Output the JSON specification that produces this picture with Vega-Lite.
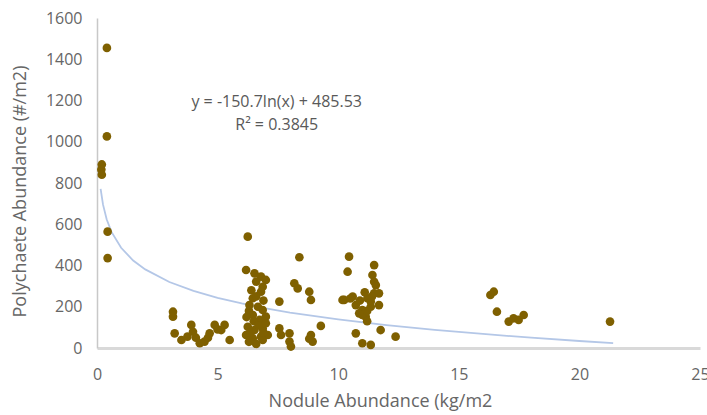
{
  "$schema": "https://vega.github.io/schema/vega-lite/v6.json",
  "width": 603,
  "height": 330,
  "autosize": {"type": "none"},
  "padding": {"left": 97, "top": 18, "right": 7, "bottom": 67},
  "background": "white",
  "config": {"view": {"stroke": null}, "font": "Open Sans"},
  "datasets": {
    "trend": [
      {"x": 0.15, "y": 771}, {"x": 0.25, "y": 695}, {"x": 0.4, "y": 624}, {"x": 0.6, "y": 563},
      {"x": 1, "y": 486}, {"x": 1.5, "y": 424}, {"x": 2, "y": 381}, {"x": 3, "y": 320},
      {"x": 4, "y": 277}, {"x": 5, "y": 243}, {"x": 6, "y": 216}, {"x": 7, "y": 192},
      {"x": 8, "y": 172}, {"x": 10, "y": 139}, {"x": 12, "y": 111}, {"x": 14, "y": 88},
      {"x": 16, "y": 68}, {"x": 18, "y": 50}, {"x": 20, "y": 34}, {"x": 21.4, "y": 24}
    ],
    "points": [
      {"x": 0.41, "y": 1455}, {"x": 0.41, "y": 1026}, {"x": 0.2, "y": 890}, {"x": 0.18, "y": 865}, {"x": 0.2, "y": 840}, {"x": 0.44, "y": 564}, {"x": 0.44, "y": 436},
      {"x": 3.15, "y": 176}, {"x": 3.15, "y": 152}, {"x": 3.22, "y": 71}, {"x": 3.5, "y": 39}, {"x": 3.75, "y": 55}, {"x": 3.91, "y": 112}, {"x": 3.98, "y": 79}, {"x": 4.1, "y": 50}, {"x": 4.26, "y": 23}, {"x": 4.46, "y": 31}, {"x": 4.6, "y": 50}, {"x": 4.67, "y": 71}, {"x": 4.88, "y": 112}, {"x": 5.0, "y": 90}, {"x": 5.15, "y": 87}, {"x": 5.29, "y": 112}, {"x": 5.5, "y": 39},
      {"x": 6.25, "y": 540}, {"x": 6.18, "y": 378}, {"x": 6.53, "y": 362}, {"x": 6.8, "y": 346}, {"x": 6.6, "y": 322}, {"x": 6.87, "y": 297}, {"x": 6.8, "y": 273}, {"x": 6.46, "y": 241}, {"x": 6.32, "y": 208}, {"x": 6.67, "y": 200}, {"x": 6.87, "y": 184}, {"x": 6.46, "y": 160}, {"x": 6.74, "y": 136}, {"x": 6.25, "y": 103}, {"x": 6.53, "y": 87}, {"x": 6.87, "y": 95}, {"x": 6.18, "y": 63}, {"x": 6.46, "y": 47}, {"x": 6.8, "y": 55}, {"x": 7.08, "y": 63}, {"x": 6.87, "y": 39}, {"x": 7.0, "y": 152}, {"x": 6.3, "y": 180}, {"x": 6.5, "y": 130}, {"x": 6.7, "y": 110}, {"x": 6.9, "y": 230}, {"x": 7.0, "y": 120}, {"x": 6.4, "y": 280}, {"x": 6.6, "y": 250}, {"x": 6.2, "y": 150}, {"x": 6.9, "y": 75}, {"x": 6.35, "y": 75}, {"x": 7.0, "y": 330}, {"x": 6.6, "y": 20}, {"x": 6.3, "y": 30},
      {"x": 7.56, "y": 225}, {"x": 7.56, "y": 95}, {"x": 7.63, "y": 63}, {"x": 7.98, "y": 71}, {"x": 7.98, "y": 31}, {"x": 8.04, "y": 7}, {"x": 8.39, "y": 440}, {"x": 8.18, "y": 314}, {"x": 8.32, "y": 289}, {"x": 8.8, "y": 273}, {"x": 8.87, "y": 233}, {"x": 8.87, "y": 63}, {"x": 8.94, "y": 31}, {"x": 9.28, "y": 107}, {"x": 8.8, "y": 45},
      {"x": 10.45, "y": 443}, {"x": 10.39, "y": 370}, {"x": 11.49, "y": 402}, {"x": 11.42, "y": 354}, {"x": 11.49, "y": 321}, {"x": 10.18, "y": 233}, {"x": 10.25, "y": 233}, {"x": 10.6, "y": 249}, {"x": 10.73, "y": 208}, {"x": 11.0, "y": 184}, {"x": 11.21, "y": 241}, {"x": 11.49, "y": 265}, {"x": 11.56, "y": 305}, {"x": 11.14, "y": 152}, {"x": 11.35, "y": 200}, {"x": 10.87, "y": 168}, {"x": 11.69, "y": 208}, {"x": 11.69, "y": 265}, {"x": 11.35, "y": 225}, {"x": 11.0, "y": 160}, {"x": 11.76, "y": 87}, {"x": 10.73, "y": 71}, {"x": 11.0, "y": 23}, {"x": 11.35, "y": 15}, {"x": 12.38, "y": 55}, {"x": 10.9, "y": 230}, {"x": 11.2, "y": 180}, {"x": 11.4, "y": 250}, {"x": 11.1, "y": 270}, {"x": 10.5, "y": 240}, {"x": 11.2, "y": 130},
      {"x": 16.31, "y": 257}, {"x": 16.45, "y": 273}, {"x": 16.58, "y": 176}, {"x": 17.07, "y": 128}, {"x": 17.27, "y": 144}, {"x": 17.48, "y": 136}, {"x": 17.69, "y": 160}, {"x": 21.27, "y": 128}
    ]
  },
  "layer": [
    {
      "data": {"name": "trend"},
      "mark": {"type": "line", "color": "#b4c7e7", "strokeWidth": 1.8},
      "encoding": {
        "x": {
          "field": "x", "type": "quantitative",
          "scale": {"domain": [0, 25], "nice": false},
          "axis": {
            "title": "Nodule Abundance (kg/m2",
            "values": [0, 5, 10, 15, 20, 25],
            "format": "d",
            "grid": false, "ticks": false,
            "domainColor": "#d9d9d9", "domainWidth": 3,
            "labelFontSize": 16, "labelColor": "#666666", "labelPadding": 18,
            "labelFlush": false, "labelOverlap": false,
            "titleFontSize": 18, "titleFontWeight": "normal", "titleColor": "#666666",
            "titleX": 283, "titleY": 53, "titleBaseline": "middle"
          }
        },
        "y": {
          "field": "y", "type": "quantitative",
          "scale": {"domain": [0, 1600], "nice": false},
          "axis": {
            "title": "Polychaete Abundance (#/m2)",
            "values": [0, 200, 400, 600, 800, 1000, 1200, 1400, 1600],
            "format": "d",
            "grid": false, "ticks": false,
            "domainColor": "#c8c8c8", "domainWidth": 1.5,
            "labelFontSize": 16, "labelColor": "#666666", "labelPadding": 15,
            "labelOverlap": false,
            "titleFontSize": 18, "titleFontWeight": "normal", "titleColor": "#666666",
            "titleX": -77, "titleY": 173, "titleBaseline": "middle"
          }
        }
      }
    },
    {
      "data": {"name": "points"},
      "mark": {"type": "circle", "color": "#7f6000", "opacity": 1, "size": 75},
      "encoding": {
        "x": {"field": "x", "type": "quantitative"},
        "y": {"field": "y", "type": "quantitative"}
      }
    },
    {
      "data": {"values": [{"label": "eq"}]},
      "mark": {
        "type": "text",
        "text": ["y = -150.7ln(x) + 485.53", "R² = 0.3845"],
        "lineHeight": 23, "fontSize": 16, "color": "#595959",
        "align": "center", "baseline": "middle"
      },
      "encoding": {
        "x": {"datum": 7.45, "type": "quantitative"},
        "y": {"datum": 1195, "type": "quantitative"}
      }
    }
  ]
}
